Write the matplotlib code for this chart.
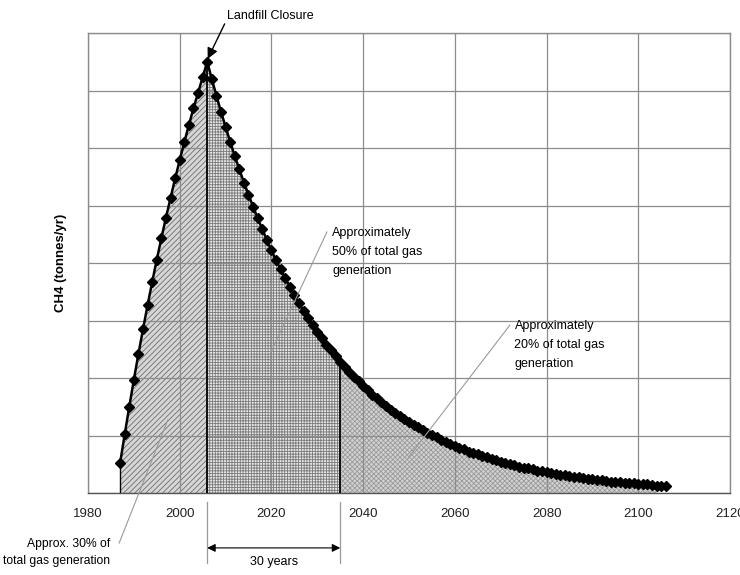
import matplotlib
matplotlib.use("Agg")
import matplotlib.pyplot as plt
import numpy as np

# ---- data ----
rise_years = list(range(1987, 2006))
rise_values = [0.52, 1.02, 1.50, 1.97, 2.42, 2.85, 3.27, 3.67, 4.06, 4.43,
               4.79, 5.13, 5.47, 5.79, 6.10, 6.40, 6.69, 6.96, 7.23]
decay_years = list(range(2006, 2107))
decay_values = [7.50, 7.20, 6.91, 6.63, 6.37, 6.11, 5.86, 5.63, 5.40, 5.19,
                4.98, 4.78, 4.59, 4.40, 4.22, 4.05, 3.89, 3.74, 3.59, 3.44,
                3.30, 3.17, 3.04, 2.92, 2.80, 2.69, 2.58, 2.48, 2.38, 2.28,
                2.19, 2.10, 2.02, 1.94, 1.86, 1.79, 1.71, 1.65, 1.58, 1.52,
                1.45, 1.40, 1.34, 1.29, 1.23, 1.19, 1.14, 1.09, 1.05, 1.01,
                0.97, 0.93, 0.89, 0.85, 0.82, 0.79, 0.76, 0.72, 0.70, 0.67,
                0.64, 0.62, 0.59, 0.57, 0.54, 0.52, 0.50, 0.48, 0.46, 0.44,
                0.43, 0.41, 0.39, 0.38, 0.36, 0.35, 0.33, 0.32, 0.31, 0.29,
                0.28, 0.27, 0.26, 0.25, 0.24, 0.23, 0.22, 0.21, 0.20, 0.20,
                0.19, 0.18, 0.17, 0.17, 0.16, 0.15, 0.15, 0.14, 0.13, 0.13,
                0.12]
x_ticks = [1980, 2000, 2020, 2040, 2060, 2080, 2100, 2120]
closure_year = 2006
window_end = 2035
fill_end = 2104
y_label = "CH4 (tonnes/yr)"

years = np.array(rise_years + decay_years, dtype=float)
values = np.array(rise_values + decay_values, dtype=float)

plt.rcParams['font.family'] = ['Liberation Sans', 'DejaVu Sans']
plt.rcParams['hatch.linewidth'] = 0.6

fig = plt.figure(figsize=(7.4, 5.75), dpi=100)
ax = fig.add_axes([88/740, 82/575, 642/740, 460/575])

# fills
m1 = (years >= years[0]) & (years <= closure_year)
m2 = (years >= closure_year) & (years <= window_end)
m3 = (years >= window_end) & (years <= fill_end)
ax.fill_between(years[m1], 0, values[m1], facecolor='#d6d6d6', edgecolor='#6e6e6e',
                hatch='//////', linewidth=0, zorder=1)
ax.fill_between(years[m2], 0, values[m2], facecolor='#e6e6e6', edgecolor='#7a7a7a',
                hatch='++++++', linewidth=0, zorder=1)
ax.fill_between(years[m3], 0, values[m3], facecolor='#d2d2d2', edgecolor='#9a9a9a',
                hatch='xxxxxxx', linewidth=0, zorder=1)

# boundary lines
v_close = values[years == closure_year][0]
v_end = values[years == window_end][0]
ax.plot([closure_year, closure_year], [0, v_close], color='black', lw=1.3, zorder=2.6)
ax.plot([window_end, window_end], [0, v_end], color='black', lw=1.3, zorder=2.6)
ax.plot([years[0], years[0]], [0, values[0]], color='black', lw=1.0, zorder=2.6)

# curve
ax.plot(years, values, color='black', lw=1.8, marker='D', markersize=5.5,
        markerfacecolor='black', markeredgecolor='black', zorder=3)

ax.set_xlim(1980, 2120)
ax.set_ylim(0, 8)
ax.set_xticks(x_ticks)
ax.set_yticks(range(0, 9))
ax.set_yticklabels([])
ax.tick_params(axis='x', length=0, pad=11, labelsize=9.5, colors='#222222')
ax.tick_params(axis='y', length=0)
ax.grid(True, color='#8c8c8c', lw=0.9)
ax.set_axisbelow(False)
for s in ax.spines.values():
    s.set_color('#8c8c8c')
    s.set_linewidth(1.0)
ax.spines['bottom'].set_color('#555555')

ax.set_ylabel(y_label, fontsize=9.5, fontweight='bold')
ax.yaxis.set_label_coords(-0.032, 0.5)

# annotations
ax.annotate("Landfill Closure", xy=(2006.1, 7.55), xytext=(2010.4, 8.3),
            ha='left', va='center', fontsize=9, annotation_clip=False,
            arrowprops=dict(arrowstyle='-|>', color='black', lw=1.0,
                            mutation_scale=16, shrinkA=0, shrinkB=0,
                            relpos=(0.0, 0.3)))

ax.text(2033.3, 4.62, "Approximately\n50% of total gas\ngeneration", ha='left', va='top',
        fontsize=9, linespacing=1.75, zorder=4)
ax.plot([2032.1, 2019.9], [4.54, 2.45], color='#9a9a9a', lw=0.8, zorder=4)

ax.text(2073.0, 3.0, "Approximately\n20% of total gas\ngeneration", ha='left', va='top',
        fontsize=9, linespacing=1.75, zorder=4)
ax.plot([2072.0, 2049.8], [2.92, 0.61], color='#9a9a9a', lw=0.8, zorder=4)

ax.text(1984.9, -0.78, "Approx. 30% of\ntotal gas generation", ha='right', va='top',
        fontsize=8.7, linespacing=1.6, clip_on=False)
ax.plot([1986.8, 1997.4], [-0.87, 1.27], color='#9a9a9a', lw=0.8, clip_on=False, zorder=4)

# 30 years bracket
for xv in (closure_year, window_end):
    ax.plot([xv, xv], [-0.16, -1.22], color='#9a9a9a', lw=0.9, clip_on=False)
ax.annotate("", xy=(closure_year, -0.955), xytext=(window_end, -0.955),
            annotation_clip=False,
            arrowprops=dict(arrowstyle='<|-|>', color='black', lw=0.8,
                            mutation_scale=12, shrinkA=0, shrinkB=0))
ax.text((closure_year + window_end) / 2, -1.2, "30 years", ha='center', va='center',
        fontsize=9, clip_on=False)

fig.savefig("out.png", dpi=100)
